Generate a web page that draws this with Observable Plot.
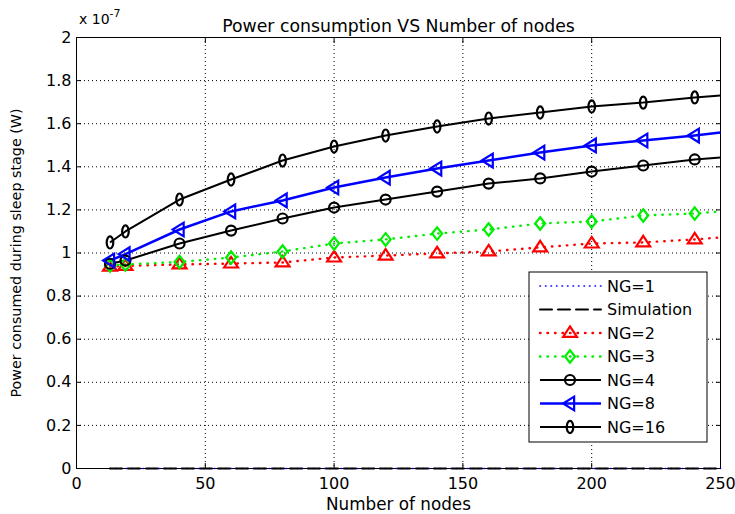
<!DOCTYPE html>
<html>
<head>
<meta charset="utf-8">
<script src="https://cdn.jsdelivr.net/npm/d3@7"></script>
<script src="https://cdn.jsdelivr.net/npm/@observablehq/plot@0.6"></script>
<style>
  html, body { margin: 0; padding: 0; background: #fff; }
  #chart svg { display: block; }
</style>
</head>
<body>
<div id="chart"></div>
<script>
// ---- data (y values in units of 1e-7 W) ----
const titleText = "Power consumption VS Number of nodes";
const xLabel = "Number of nodes";
const yLabel = "Power consumed during sleep stage (W)";
const nodes = [13, 19, 40, 60, 80, 100, 120, 140, 160, 180, 200, 220, 240, 250];
const markerNodes = [13, 19, 40, 60, 80, 100, 120, 140, 160, 180, 200, 220, 240];
const ng1 = [0, 0, 0, 0, 0, 0, 0, 0, 0, 0, 0, 0, 0, 0];
const simulation = [0, 0, 0, 0, 0, 0, 0, 0, 0, 0, 0, 0, 0, 0];
const ng2 = [0.937, 0.940, 0.947, 0.951, 0.956, 0.979, 0.988, 0.998, 1.007, 1.026, 1.044, 1.049, 1.063, 1.072];
const ng3 = [0.942, 0.947, 0.958, 0.979, 1.007, 1.044, 1.063, 1.090, 1.109, 1.137, 1.146, 1.174, 1.183, 1.193];
const ng4 = [0.950, 0.965, 1.044, 1.104, 1.160, 1.211, 1.248, 1.285, 1.322, 1.346, 1.378, 1.406, 1.434, 1.443];
const ng8 = [0.965, 0.995, 1.109, 1.193, 1.244, 1.304, 1.350, 1.392, 1.429, 1.466, 1.499, 1.522, 1.545, 1.559];
const ng16 = [1.049, 1.100, 1.248, 1.341, 1.429, 1.494, 1.545, 1.587, 1.624, 1.652, 1.680, 1.698, 1.722, 1.731];
const xTicks = [0, 50, 100, 150, 200, 250];
const yTicks = [0, 0.2, 0.4, 0.6, 0.8, 1, 1.2, 1.4, 1.6, 1.8, 2];
const scaleNote = "x 10";
const scaleExp = "-7";
const legendLabels = ["NG=1", "Simulation", "NG=2", "NG=3", "NG=4", "NG=8", "NG=16"];

// ---- custom marker shapes ----
const triLeft = {draw(ctx, size) {
  const r = Math.sqrt(size / Math.PI) * 1.25;
  ctx.moveTo(-r, 0); ctx.lineTo(r * 0.6, -r); ctx.lineTo(r * 0.6, r); ctx.closePath();
}};
const triUp = {draw(ctx, size) {
  const r = Math.sqrt(size / Math.PI) * 1.2;
  ctx.moveTo(0, -r); ctx.lineTo(r * 1.05, r * 0.6); ctx.lineTo(-r * 1.05, r * 0.6); ctx.closePath();
}};
const diamond = {draw(ctx, size) {
  const r = Math.sqrt(size / Math.PI) * 1.2;
  ctx.moveTo(0, -r); ctx.lineTo(r * 0.8, 0); ctx.lineTo(0, r); ctx.lineTo(-r * 0.8, 0); ctx.closePath();
}};
const narrowOval = {draw(ctx, size) {
  const r = Math.sqrt(size / Math.PI);
  const rx = r * 0.6, ry = r * 1.1;
  const k = 0.5523;
  ctx.moveTo(0, -ry);
  ctx.bezierCurveTo(rx * k, -ry, rx, -ry * k, rx, 0);
  ctx.bezierCurveTo(rx, ry * k, rx * k, ry, 0, ry);
  ctx.bezierCurveTo(-rx * k, ry, -rx, ry * k, -rx, 0);
  ctx.bezierCurveTo(-rx, -ry * k, -rx * k, -ry, 0, -ry);
  ctx.closePath();
}};

const seriesDefs = [
  {name: "NG=1", values: ng1, color: "#0000ff", width: 1.6, dash: "0.5,5", symbol: null},
  {name: "Simulation", values: simulation, color: "#000000", width: 2, dash: "12,6", symbol: null},
  {name: "NG=2", values: ng2, color: "#ff0000", width: 2.4, dash: "0.5,7", symbol: triUp, r: 5.5},
  {name: "NG=3", values: ng3, color: "#00ee00", width: 2.4, dash: "0.5,7", symbol: diamond, r: 5.2},
  {name: "NG=4", values: ng4, color: "#000000", width: 2, dash: null, symbol: "circle", r: 5},
  {name: "NG=8", values: ng8, color: "#0000ff", width: 2.5, dash: null, symbol: triLeft, r: 5.5},
  {name: "NG=16", values: ng16, color: "#000000", width: 2, dash: null, symbol: narrowOval, r: 5.5}
];

const rows = seriesDefs.map(s => nodes.map((x, i) => ({x, y: s.values[i], name: s.name})));

const font = "'DejaVu Sans', sans-serif";
const fmtY = d => String(+d.toFixed(1));

const marks = [
  Plot.gridX(xTicks, {stroke: "#000", strokeOpacity: 1, strokeWidth: 1, strokeDasharray: "1,3"}),
  Plot.gridY(yTicks, {stroke: "#000", strokeOpacity: 1, strokeWidth: 1, strokeDasharray: "1,3"}),
  Plot.frame({stroke: "#000", strokeWidth: 1}),
  Plot.axisX(xTicks, {anchor: "bottom", tickSize: -5, tickPadding: 14, fontSize: 16, label: null, tickFormat: d => String(d)}),
  Plot.axisX(xTicks, {anchor: "top", tickSize: -5, tickFormat: () => "", label: null}),
  Plot.axisY(yTicks, {anchor: "left", tickSize: -5, tickPadding: 10, fontSize: 16, label: null, tickFormat: fmtY}),
  Plot.axisY(yTicks, {anchor: "right", tickSize: -5, tickFormat: () => "", label: null}),
];

seriesDefs.forEach((s, k) => {
  marks.push(Plot.line(rows[k], {x: "x", y: "y", stroke: s.color, strokeWidth: s.width, strokeDasharray: s.dash, strokeLinecap: s.dash ? "round" : "butt"}));
});
seriesDefs.forEach((s, k) => {
  if (!s.symbol) return;
  marks.push(Plot.dot(rows[k].filter(d => markerNodes.includes(d.x)), {x: "x", y: "y", symbol: () => s.symbol, r: s.r, stroke: s.color, strokeWidth: 2.2, fill: "none"}));
});
marks.push(Plot.text([titleText], {frameAnchor: "top", dy: -18, fontSize: 17.3, fill: "#000", text: d => d}));
marks.push(Plot.text([xLabel], {frameAnchor: "bottom", lineAnchor: "middle", dy: 36, fontSize: 16.8, fill: "#000", text: d => d}));
marks.push(Plot.text([yLabel], {frameAnchor: "left", textAnchor: "middle", lineAnchor: "middle", dx: -60, rotate: -90, fontSize: 14.3, fill: "#000", text: d => d}));

const chart = Plot.plot({
  width: 735,
  height: 514,
  marginLeft: 76,
  marginRight: 15,
  marginTop: 37,
  marginBottom: 46,
  style: {fontFamily: font, fontSize: "16px", color: "#000", background: "#fff"},
  x: {domain: [0, 250]},
  y: {domain: [0, 2]},
  symbol: {type: "identity"},
  marks
});
document.getElementById("chart").appendChild(chart);

// ---- scale note & legend (layout overlay) ----
const svg = d3.select(chart);
const note = svg.append("text").attr("x", 79).attr("y", 24).attr("text-anchor", "start").attr("font-family", font).attr("font-size", 14).attr("fill", "#000");
note.append("tspan").text(scaleNote);
note.append("tspan").attr("dy", -7).attr("font-size", 11).text(scaleExp);

const lg = svg.append("g").attr("font-family", font).attr("font-size", 16).attr("text-anchor", "start");
const lx = 529, ly = 272, lw = 178, lh = 170, rowH = 23.5;
lg.append("rect").attr("x", lx).attr("y", ly).attr("width", lw).attr("height", lh).attr("fill", "#fff").attr("stroke", "#000").attr("stroke-width", 1);
legendLabels.forEach((label, i) => {
  const s = seriesDefs.find(d => d.name === label);
  const cy = ly + 14 + i * rowH;
  lg.append("line").attr("x1", lx + 11).attr("x2", lx + 72).attr("y1", cy).attr("y2", cy)
    .attr("stroke", s.color).attr("stroke-width", s.width).attr("stroke-dasharray", s.dash)
    .attr("stroke-linecap", s.dash ? "round" : "butt");
  if (s.symbol) {
    const sym = s.symbol === "circle" ? d3.symbolCircle : s.symbol;
    lg.append("path").attr("transform", `translate(${lx + 41},${cy})`)
      .attr("d", d3.symbol(sym, s.r * s.r * Math.PI)())
      .attr("fill", "none").attr("stroke", s.color).attr("stroke-width", 2.2);
  }
  lg.append("text").attr("x", lx + 78).attr("y", cy).attr("dy", "0.36em").attr("fill", "#000").text(label);
});
</script>
</body>
</html>
